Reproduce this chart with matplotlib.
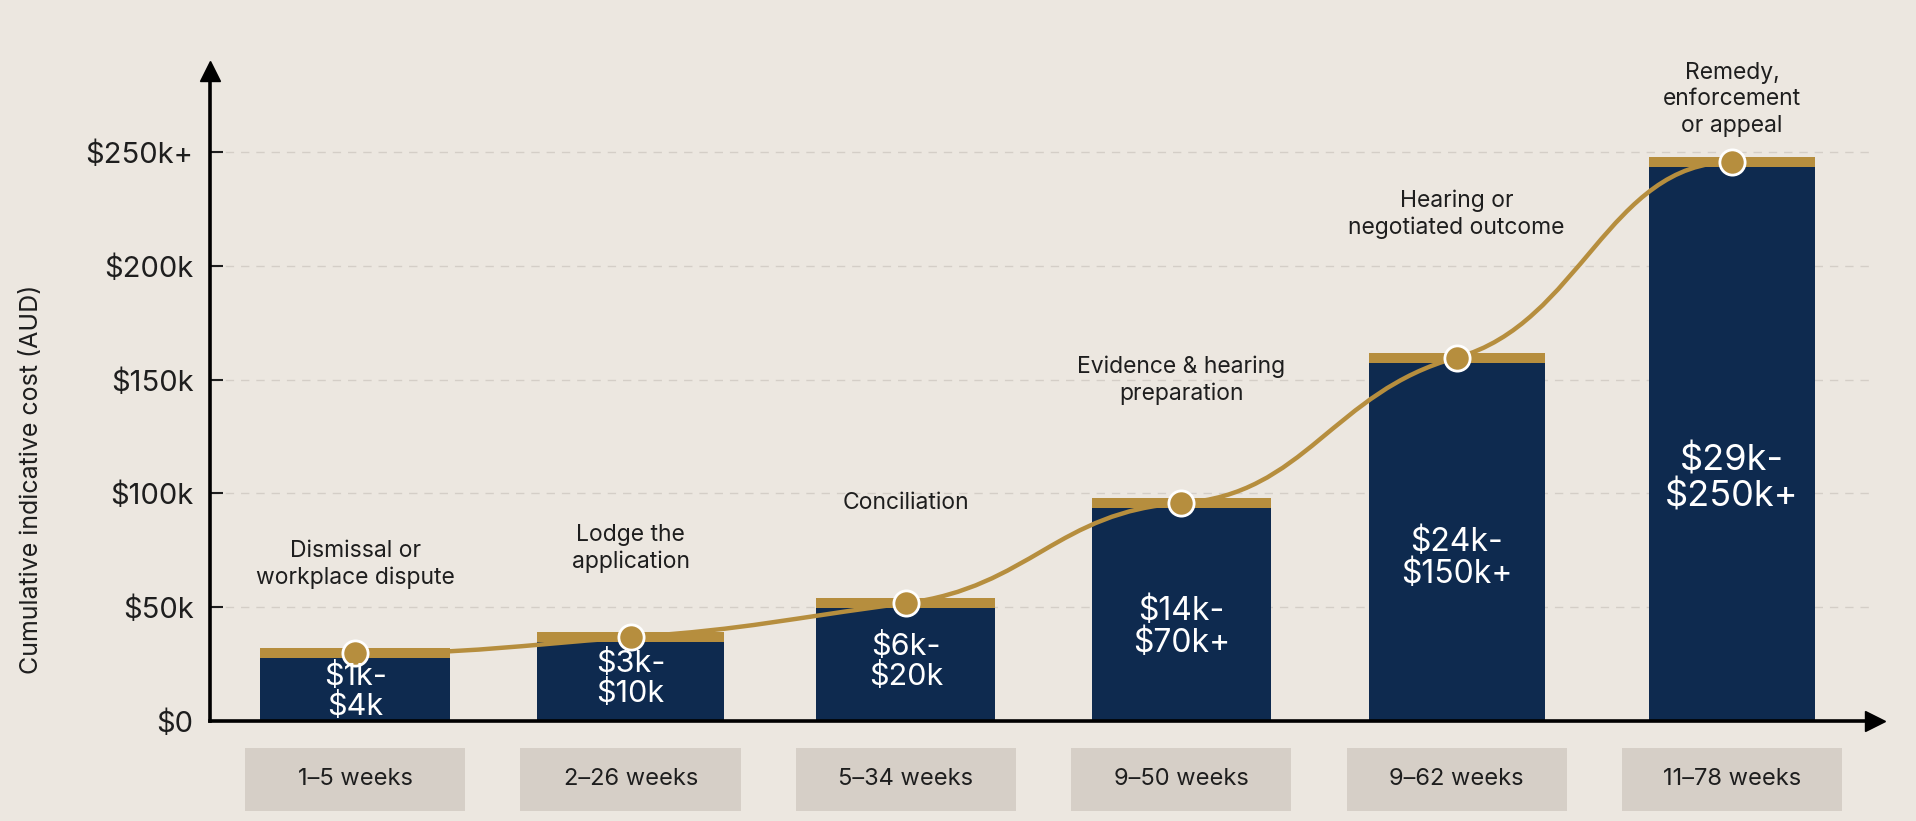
import numpy as np
import matplotlib.pyplot as plt
from matplotlib.path import Path
from matplotlib.patches import PathPatch, Rectangle

plt.rcParams['font.family'] = ['Inter', 'DejaVu Sans']

stages = ["Dismissal or\nworkplace dispute", "Lodge the\napplication", "Conciliation",
          "Evidence & hearing\npreparation", "Hearing or\nnegotiated outcome",
          "Remedy,\nenforcement\nor appeal"]
durations = ["1–5 weeks", "2–26 weeks", "5–34 weeks", "9–50 weeks", "9–62 weeks", "11–78 weeks"]
cost_ranges = ["$1k-\n$4k", "$3k-\n$10k", "$6k-\n$20k", "$14k-\n$70k+", "$24k-\n$150k+", "$29k-\n$250k+"]
# illustrative bar heights in $k (drawn, not to the range scale)
heights = [32, 39, 54, 98, 162, 248]

yticks = [0, 50, 100, 150, 200, 250]
ytick_labels = ["$0", "$50k", "$100k", "$150k", "$200k", "$250k+"]

# layout tweaks
stage_gap = [26, 26, 37, 41, 50, 9]          # gap above bar top, in $k
value_frac = [0.40, 0.48, 0.48, 0.42, 0.44, 0.43]
value_size = [22, 22, 22, 23, 23, 26]
bar_w = [0.69, 0.68, 0.65, 0.65, 0.64, 0.60]
tangent = [0, 0.9, 0.7, 0.15, 0.45, 0]       # share of the local slope kept at each point

BG = "#ece7e0"
NAVY = "#0e2a4f"
GOLD = "#b68e3e"
BOX = "#d6cfc7"
INK = "#1e1e1e"

fig = plt.figure(figsize=(19.16, 8.21), dpi=100, facecolor=BG)
ax = fig.add_axes([0.1097, 0.122, 0.869, 0.792])
ax.set_facecolor(BG)

x = np.arange(len(heights))
band = 4.5
ax.bar(x, np.array(heights) - band, width=bar_w, color=NAVY, zorder=2)
ax.bar(x, band, bottom=np.array(heights) - band, width=bar_w, color=GOLD, zorder=2)

# smooth curve through the stage points
pts_y = np.array(heights) - band / 2
slopes = np.diff(pts_y)
m = np.zeros(len(x))
for i in range(1, len(x) - 1):
    m[i] = tangent[i] * 2 / (1 / slopes[i - 1] + 1 / slopes[i])
verts = [(x[0], pts_y[0])]
codes = [Path.MOVETO]
for i in range(len(x) - 1):
    dx = 0.45
    verts += [(x[i] + dx, pts_y[i] + m[i] * dx),
              (x[i + 1] - dx, pts_y[i + 1] - m[i + 1] * dx),
              (x[i + 1], pts_y[i + 1])]
    codes += [Path.CURVE4] * 3
ax.add_patch(PathPatch(Path(verts, codes), fill=False, edgecolor=GOLD, lw=3.2,
                       zorder=3, capstyle='round'))
ax.scatter(x, pts_y, s=330, color=GOLD, edgecolor="white", linewidth=2, zorder=4)

for i in range(len(x)):
    ax.text(x[i], heights[i] + stage_gap[i], stages[i], ha='center', va='bottom',
            fontsize=16.5, color=INK, linespacing=1.25, zorder=5)
    ax.text(x[i], heights[i] * value_frac[i], cost_ranges[i], ha='center', va='center',
            fontsize=value_size[i], color="white", linespacing=1.05, zorder=5)
    ax.add_patch(Rectangle((x[i] - 0.4, -39.5), 0.8, 27.5, facecolor=BOX,
                           edgecolor='none', clip_on=False, zorder=1))
    ax.text(x[i], -25.8, durations[i], ha='center', va='center', fontsize=17,
            color=INK, clip_on=False)

ax.set_xlim(-0.527, 5.52)
ax.set_ylim(0, 286)
ax.set_xticks([])
ax.set_yticks(yticks)
ax.set_yticklabels(ytick_labels, fontsize=21, color=INK)
ax.tick_params(axis='y', direction='in', length=9, width=1.5, pad=12, color=INK)
ax.yaxis.grid(True, linestyle=(0, (6, 5)), color="#d4cec7", lw=1, zorder=0)
for s in ['top', 'right']:
    ax.spines[s].set_visible(False)
for s in ['left', 'bottom']:
    ax.spines[s].set_linewidth(2.6)
    ax.spines[s].set_color("black")
    ax.spines[s].set_zorder(6)
ax.plot(1, 0, '>', color='black', ms=14, transform=ax.transAxes, clip_on=False, zorder=7)
ax.plot(0, 1, '^', color='black', ms=14, transform=ax.transAxes, clip_on=False, zorder=7)

ax.set_ylabel("Cumulative indicative cost (AUD)", fontsize=18, color=INK)
ax.yaxis.set_label_coords(-0.1005, 0.372)

fig.savefig("out.png", dpi=100, facecolor=BG)
